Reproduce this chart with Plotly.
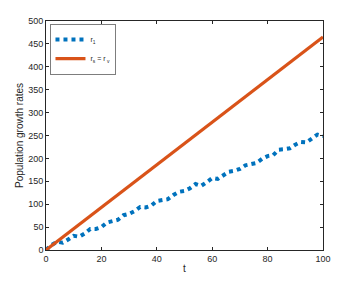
import plotly.graph_objects as go

t_r1 = list(range(0, 101, 2))
r1 = [0, 11, 18, 16, 23, 31, 29, 36, 46, 46, 50, 60, 63, 66, 76, 79, 85, 94, 93, 97,
      107, 110, 111, 120, 127, 129, 135, 144, 140, 148, 157, 155, 162, 171, 173, 177,
      185, 188, 190, 199, 205, 207, 219, 220, 222, 230, 236, 235, 244, 252, 249]
t_rs = [0, 100]
rs = [0, 465]

x_ticks = [0, 20, 40, 60, 80, 100]
y_ticks = [0, 50, 100, 150, 200, 250, 300, 350, 400, 450, 500]

fig = go.Figure()
fig.add_trace(go.Scatter(x=t_r1, y=r1, mode="lines", name="r<sub>1</sub>",
                         line=dict(color="#0072BD", width=4, dash="dot")))
fig.add_trace(go.Scatter(x=t_rs, y=rs, mode="lines", name="r<sub>s</sub> = r<sub> v</sub>",
                         line=dict(color="#D95319", width=3.2)))

axis_common = dict(showgrid=False, zeroline=False, showline=True, mirror="ticks",
                   linecolor="#262626", linewidth=0.6, ticks="inside", ticklen=3,
                   tickcolor="#262626", tickwidth=0.6, automargin=False,
                   tickfont=dict(family="Liberation Sans, Arial", size=9, color="#262626"))

fig.update_layout(
    width=349, height=274,
    margin=dict(l=38, r=34, t=13, b=32),
    plot_bgcolor="white", paper_bgcolor="white",
    showlegend=True,
    legend=dict(x=0.014, y=0.985, xanchor="left", yanchor="top",
                bordercolor="#262626", borderwidth=0.6, bgcolor="white",
                font=dict(family="Liberation Sans, Arial", size=7, color="#262626"),
                tracegroupgap=0, itemwidth=30),
    xaxis=dict(range=[0, 100], tickvals=x_ticks,
               title=dict(text="t", standoff=2,
                          font=dict(family="Liberation Sans, Arial", size=10, color="#262626")),
               **axis_common),
    yaxis=dict(range=[0, 500], tickvals=y_ticks,
               title=dict(text="Population growth rates", standoff=2,
                          font=dict(family="Liberation Sans, Arial", size=10, color="#262626")),
               **axis_common),
)

fig.write_html("out.html")
